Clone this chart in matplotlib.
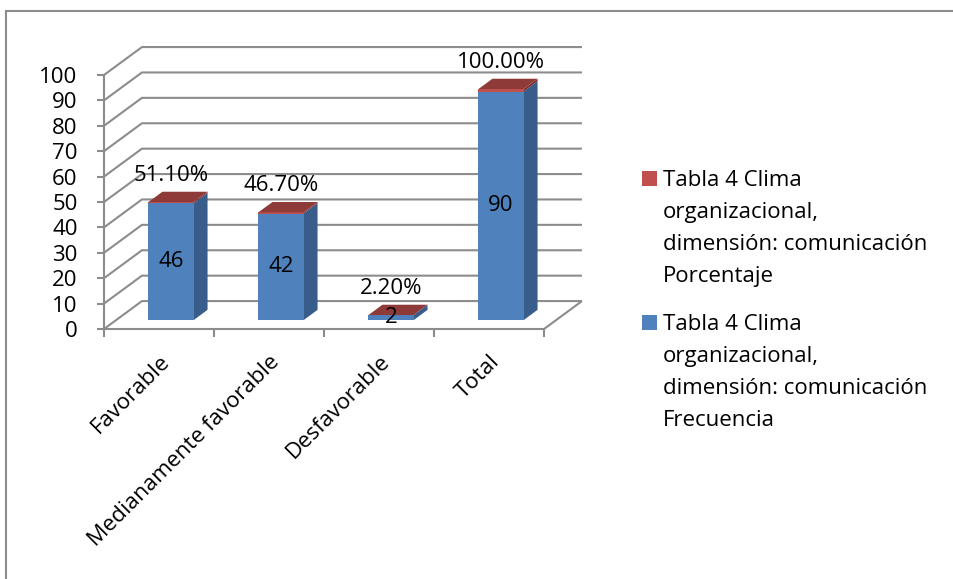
import matplotlib
matplotlib.use("Agg")
import matplotlib.pyplot as plt
from matplotlib.patches import Polygon, Rectangle
from matplotlib.lines import Line2D

# ---- data -------------------------------------------------------------
categories = ["Favorable", "Medianamente favorable", "Desfavorable", "Total"]
frecuencia = [46, 42, 2, 90]
porcentaje = [0.511, 0.467, 0.022, 1.0]
porcentaje_labels = ["51.10%", "46.70%", "2.20%", "100.00%"]
y_ticks = list(range(0, 101, 10))
legend_labels = [
    "Tabla 4 Clima\norganizacional,\ndimensión: comunicación\nPorcentaje",
    "Tabla 4 Clima\norganizacional,\ndimensión: comunicación\nFrecuencia",
]

# ---- style ------------------------------------------------------------
FONT = "Open Sans"
FS = 16
BLUE_FRONT, BLUE_SIDE, BLUE_TOP = "#4F81BD", "#385D8A", "#6F97C8"
RED_FRONT, RED_SIDE, RED_TOP = "#C0504D", "#7A2F2E", "#8E3A39"
GRID = "#8C8C8C"

plt.rcParams["font.family"] = [FONT, "DejaVu Sans"]

W, H = 954, 579
fig = plt.figure(figsize=(W / 100, H / 100), dpi=100)

# front plane of the 3-D box
ax = fig.add_axes([104 / W, (H - 329) / H, 440 / W, 254 / H])
n = len(categories)
ax.set_xlim(0, n)
ax.set_ylim(0, 100)
for s in ax.spines.values():
    s.set_visible(False)
ax.patch.set_visible(False)

# oblique depth offset (in data units) for the full depth of the box
DEPTH_X = 0.345
DEPTH_Y = 11.0


def proj(x, y, d):
    return (x + d * DEPTH_X, y + d * DEPTH_Y)


def line(pts, **kw):
    xs, ys = zip(*pts)
    ax.add_line(Line2D(xs, ys, color=GRID, lw=1.5, clip_on=False,
                       solid_capstyle="butt", **kw))


# walls: gridlines on the side and back wall
for v in y_ticks:
    line([proj(0, v, 0), proj(0, v, 1), proj(n, v, 1)], zorder=1)
# floor front and right edge
line([proj(0, 0, 0), proj(n, 0, 0), proj(n, 0, 1)], zorder=1)
# value axis
line([proj(0, 0, 0), proj(0, 100, 0)], zorder=1)

# ticks
ax.set_yticks(y_ticks)
ax.set_yticklabels([str(v) for v in y_ticks], fontsize=FS)
ax.tick_params(axis="y", length=5, width=1.5, color=GRID, pad=14)
ax.set_xticks([i + 0.5 for i in range(n)])
ax.set_xticklabels(categories, fontsize=FS, rotation=45, ha="right",
                   rotation_mode="anchor")
ax.set_xticks(range(n + 1), minor=True)
ax.tick_params(axis="x", which="major", length=0, pad=16)
ax.tick_params(axis="x", which="minor", length=6, width=1.5, color=GRID)

# ---- 3-D stacked columns ------------------------------------------------
BAR_W = 0.41
D0, D1 = 0.315, 0.685


def prism(x0, x1, y0, y1, front, side, top, z, draw_top):
    f = [proj(x0, y0, D0), proj(x1, y0, D0), proj(x1, y1, D0), proj(x0, y1, D0)]
    s = [proj(x1, y0, D0), proj(x1, y0, D1), proj(x1, y1, D1), proj(x1, y1, D0)]
    ax.add_patch(Polygon(s, closed=True, fc=side, ec="none", zorder=z, clip_on=False))
    ax.add_patch(Polygon(f, closed=True, fc=front, ec="none", zorder=z, clip_on=False))
    if draw_top:
        t = [proj(x0, y1, D0), proj(x1, y1, D0), proj(x1, y1, D1), proj(x0, y1, D1)]
        ax.add_patch(Polygon(t, closed=True, fc=top, ec="none", zorder=z, clip_on=False))


for i, (fq, pc) in enumerate(zip(frecuencia, porcentaje)):
    x0 = i + (1 - BAR_W) / 2
    x1 = x0 + BAR_W
    z = 3 + i
    prism(x0, x1, 0, fq, BLUE_FRONT, BLUE_SIDE, BLUE_TOP, z, False)
    prism(x0, x1, fq, fq + pc, RED_FRONT, RED_SIDE, RED_TOP, z, True)

    xc = (x0 + x1) / 2
    cx, cy = proj(xc, fq / 2, D0)
    ax.text(cx, cy, str(fq), ha="center", va="center", fontsize=FS,
            zorder=20, clip_on=False)
    tx, ty = proj(xc, fq + pc, D0)
    ax.annotate(porcentaje_labels[i], (tx, ty), xytext=(0, 19),
                textcoords="offset points", ha="center", va="center",
                fontsize=FS, zorder=20, annotation_clip=False)

# ---- legend -------------------------------------------------------------
legend_colors = [RED_FRONT, BLUE_FRONT]
legend_baselines = [186, 330]
LINE_STEP = 32  # px between legend text lines
for col, lab, base in zip(legend_colors, legend_labels, legend_baselines):
    fig.patches.append(Rectangle((642 / W, (H - base) / H), 15 / W, 15 / H,
                                 transform=fig.transFigure, fc=col, ec="none"))
    for k, txt in enumerate(lab.split("\n")):
        fig.text(663 / W, (H - base - k * LINE_STEP) / H, txt, fontsize=FS,
                 ha="left", va="baseline")

# chart area border
fig.patches.append(Rectangle((6 / W, -0.1), 1.2, (H - 11) / H + 0.1,
                             transform=fig.transFigure, fc="none",
                             ec="#8C8C8C", lw=1.5))

fig.savefig("out.png", dpi=100)
